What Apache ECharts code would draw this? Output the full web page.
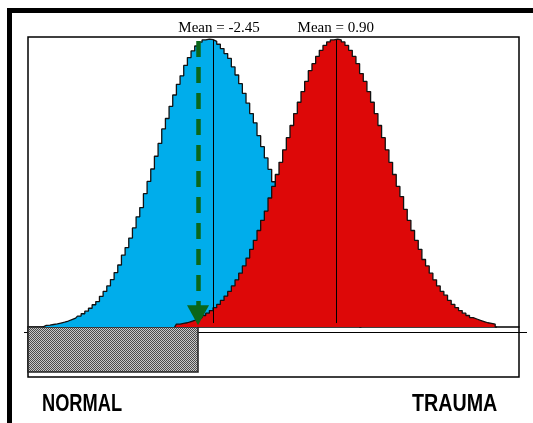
<!DOCTYPE html>
<html>
<head>
<meta charset="utf-8">
<script src="https://cdn.jsdelivr.net/npm/echarts@6/dist/echarts.min.js"></script>
<style>
  html, body { margin: 0; padding: 0; background: #fff; }
  #chart { width: 533px; height: 423px; }
</style>
</head>
<body>
<div id="chart"></div>
<script>
(function () {
  'use strict';

  // histogram bin centres and heights (peak ~ 99)
  var normalBins = [
    -7.1, -7.0, -6.9, -6.8, -6.7, -6.6, -6.5, -6.4, -6.3, -6.2,
    -6.1, -6.0, -5.9, -5.8, -5.7, -5.6, -5.5, -5.4, -5.3, -5.2,
    -5.1, -5.0, -4.9, -4.8, -4.7, -4.6, -4.5, -4.4, -4.3, -4.2,
    -4.1, -4.0, -3.9, -3.8, -3.7, -3.6, -3.5, -3.4, -3.3, -3.2,
    -3.1, -3.0, -2.9, -2.8, -2.7, -2.6, -2.5, -2.4, -2.3, -2.2,
    -2.1, -2.0, -1.9, -1.8, -1.7, -1.6, -1.5, -1.4, -1.3, -1.2,
    -1.1, -1.0, -0.9, -0.8, -0.7, -0.6, -0.5, -0.4, -0.3, -0.2,
    -0.1, 0.0, 0.1, 0.2, 0.3, 0.4, 0.5, 0.6, 0.7, 0.8,
    0.9, 1.0, 1.1, 1.2, 1.3, 1.4, 1.5, 1.6];
  var normalHeights = [
    0, 0.6, 0.7, 0.9, 1.1, 1.4, 1.7, 2.1, 2.6, 3.1,
    3.8, 4.6, 5.5, 6.5, 7.7, 8.8, 10.6, 12.3, 14.2, 16.4,
    18.8, 21.4, 24.8, 27.4, 30.7, 34.2, 38.0, 41.2, 46.0, 50.2,
    54.5, 58.9, 63.3, 68.3, 71.9, 76.1, 80.0, 83.7, 86.6, 90.2,
    92.9, 95.2, 96.9, 98.2, 99.0, 99.3, 99.1, 98.5, 97.5, 96.0,
    94.3, 92.6, 89.7, 86.9, 83.9, 80.6, 77.2, 73.6, 70.4, 66.0,
    62.2, 58.3, 54.4, 50.1, 46.8, 43.2, 39.7, 36.3, 33.0, 29.9,
    27.0, 24.3, 21.8, 19.4, 17.2, 15.3, 13.4, 11.8, 10.3, 9.0,
    7.8, 6.7, 5.7, 4.9, 4.2, 3.6, 3.0, 0];

  var traumaBins = [
    -3.5, -3.4, -3.3, -3.2, -3.1, -3.0, -2.9, -2.8, -2.7, -2.6,
    -2.5, -2.4, -2.3, -2.2, -2.1, -2.0, -1.9, -1.8, -1.7, -1.6,
    -1.5, -1.4, -1.3, -1.2, -1.1, -1.0, -0.9, -0.8, -0.7, -0.6,
    -0.5, -0.4, -0.3, -0.2, -0.1, 0.0, 0.1, 0.2, 0.3, 0.4,
    0.5, 0.6, 0.7, 0.8, 0.9, 1.0, 1.1, 1.2, 1.3, 1.4,
    1.5, 1.6, 1.7, 1.8, 1.9, 2.0, 2.1, 2.2, 2.3, 2.4,
    2.5, 2.6, 2.7, 2.8, 2.9, 3.0, 3.1, 3.2, 3.3, 3.4,
    3.5, 3.6, 3.7, 3.8, 3.9, 4.0, 4.1, 4.2, 4.3, 4.4,
    4.5, 4.6, 4.7, 4.8, 4.9, 5.0, 5.1, 5.2, 5.3];
  var traumaHeights = [
    0, 1.0, 1.3, 1.5, 1.9, 2.3, 2.8, 3.3, 4.0, 4.8,
    5.7, 6.7, 7.8, 9.2, 10.7, 12.3, 14.2, 16.3, 18.6, 21.1,
    23.8, 26.8, 29.9, 33.3, 36.8, 40.0, 44.5, 48.5, 52.6, 56.8,
    61.1, 65.3, 69.5, 73.6, 77.5, 81.2, 84.7, 88.4, 90.8, 93.3,
    95.4, 97.1, 98.3, 99.0, 99.3, 99.0, 98.3, 97.1, 95.4, 93.3,
    90.8, 87.4, 84.7, 81.2, 77.5, 73.6, 69.5, 65.3, 61.1, 56.8,
    52.6, 48.5, 45.0, 40.6, 36.8, 33.3, 29.9, 26.8, 23.3, 21.1,
    18.6, 16.3, 14.2, 12.3, 11.0, 9.2, 7.8, 6.7, 5.7, 4.8,
    4.0, 3.3, 2.8, 2.3, 1.9, 1.5, 1.3, 1.0, 0];

  var means = [-2.45, 0.90];
  var meanLabels = ['Mean = -2.45', 'Mean = 0.90'];
  var cutoff = -2.86;
  var groupLabels = ['NORMAL', 'TRAUMA'];

  var xMin = -7.5, xMax = 5.9;
  var yMin = -17.2, yMax = 100;

  function pairs(xs, ys) {
    var out = [];
    for (var i = 0; i < xs.length; i++) {
      out.push([xs[i], ys[i]]);
    }
    return out;
  }

  // fine checker pattern for the shaded box
  var pat = document.createElement('canvas');
  pat.width = 2;
  pat.height = 2;
  var pctx = pat.getContext('2d');
  pctx.fillStyle = '#c8c8c8';
  pctx.fillRect(0, 0, 2, 2);
  pctx.fillStyle = '#4a4a4a';
  pctx.fillRect(0, 0, 1, 1);
  pctx.fillRect(1, 1, 1, 1);

  var myChart = echarts.init(document.getElementById('chart'), null, { renderer: 'canvas' });

  var option = {
    animation: false,
    backgroundColor: '#fff',
    grid: {
      left: 28,
      right: 14,
      top: 37,
      bottom: 46,
      show: true,
      backgroundColor: 'transparent',
      borderColor: '#000',
      borderWidth: 1.5
    },
    xAxis: {
      type: 'value',
      min: xMin,
      max: xMax,
      axisLine: { show: true, onZero: true, lineStyle: { color: '#000', width: 1.5 } },
      axisTick: { show: false },
      axisLabel: { show: false },
      splitLine: { show: false }
    },
    yAxis: {
      type: 'value',
      min: yMin,
      max: yMax,
      axisLine: { show: false },
      axisTick: { show: false },
      axisLabel: { show: false },
      splitLine: { show: false }
    },
    graphic: [
      { type: 'rect', shape: { x: 7, y: 8, width: 526, height: 5 }, style: { fill: '#000' } },
      { type: 'rect', shape: { x: 7, y: 8, width: 5, height: 415 }, style: { fill: '#000' } },
      { type: 'line', shape: { x1: 24, y1: 332.5, x2: 527, y2: 332.5 }, style: { stroke: '#000', lineWidth: 1 } },
      {
        type: 'text', x: 42, y: 392, scaleX: 0.76,
        style: { text: groupLabels[0], fill: '#000', font: 'bold 24px "Liberation Sans", Arial, sans-serif' }
      },
      {
        type: 'text', x: 412, y: 392, scaleX: 0.82,
        style: { text: groupLabels[1], fill: '#000', font: 'bold 24px "Liberation Sans", Arial, sans-serif' }
      }
    ],
    series: [
      {
        name: 'Normal',
        type: 'line',
        step: 'middle',
        symbol: 'none',
        z: 2,
        data: pairs(normalBins, normalHeights),
        lineStyle: { color: '#111', width: 1.3 },
        areaStyle: { color: '#00adeb', opacity: 1 }
      },
      {
        name: 'Trauma',
        type: 'line',
        step: 'middle',
        symbol: 'none',
        z: 3,
        data: pairs(traumaBins, traumaHeights),
        lineStyle: { color: '#111', width: 1.3 },
        areaStyle: { color: '#dd0808', opacity: 1 }
      },
      {
        name: 'marks',
        type: 'line',
        z: 5,
        data: [],
        markArea: {
          silent: true,
          itemStyle: {
            color: { image: pat, repeat: 'repeat' },
            borderColor: '#222',
            borderWidth: 1.5
          },
          data: [[{ coord: [xMin, 0] }, { coord: [cutoff, -15.5] }]]
        },
        markLine: {
          silent: true,
          symbol: ['none', 'none'],
          lineStyle: { color: '#000', width: 1, type: 'solid' },
          label: {
            show: true,
            position: 'end',
            distance: 4,
            color: '#000',
            fontFamily: '"Liberation Serif", "Times New Roman", serif',
            fontSize: 15
          },
          data: [
            [{ coord: [means[0], 1.4] }, { coord: [means[0], 99], label: { formatter: meanLabels[0], padding: [0, 0, 0, 12] } }],
            [{ coord: [means[1], 1.4] }, { coord: [means[1], 99], label: { formatter: meanLabels[1] } }]
          ]
        }
      },
      {
        name: 'cutoff',
        type: 'line',
        z: 6,
        data: [],
        markLine: {
          silent: true,
          symbol: ['none', 'triangle'],
          symbolSize: [22, 20],
          lineStyle: { color: '#0a661a', width: 4.5, type: [16, 10] },
          itemStyle: { color: '#0a661a' },
          label: { show: false },
          data: [[{ coord: [cutoff, 98.6] }, { coord: [cutoff, 4.1] }]]
        }
      }
    ]
  };

  myChart.setOption(option);
})();
</script>
</body>
</html>
